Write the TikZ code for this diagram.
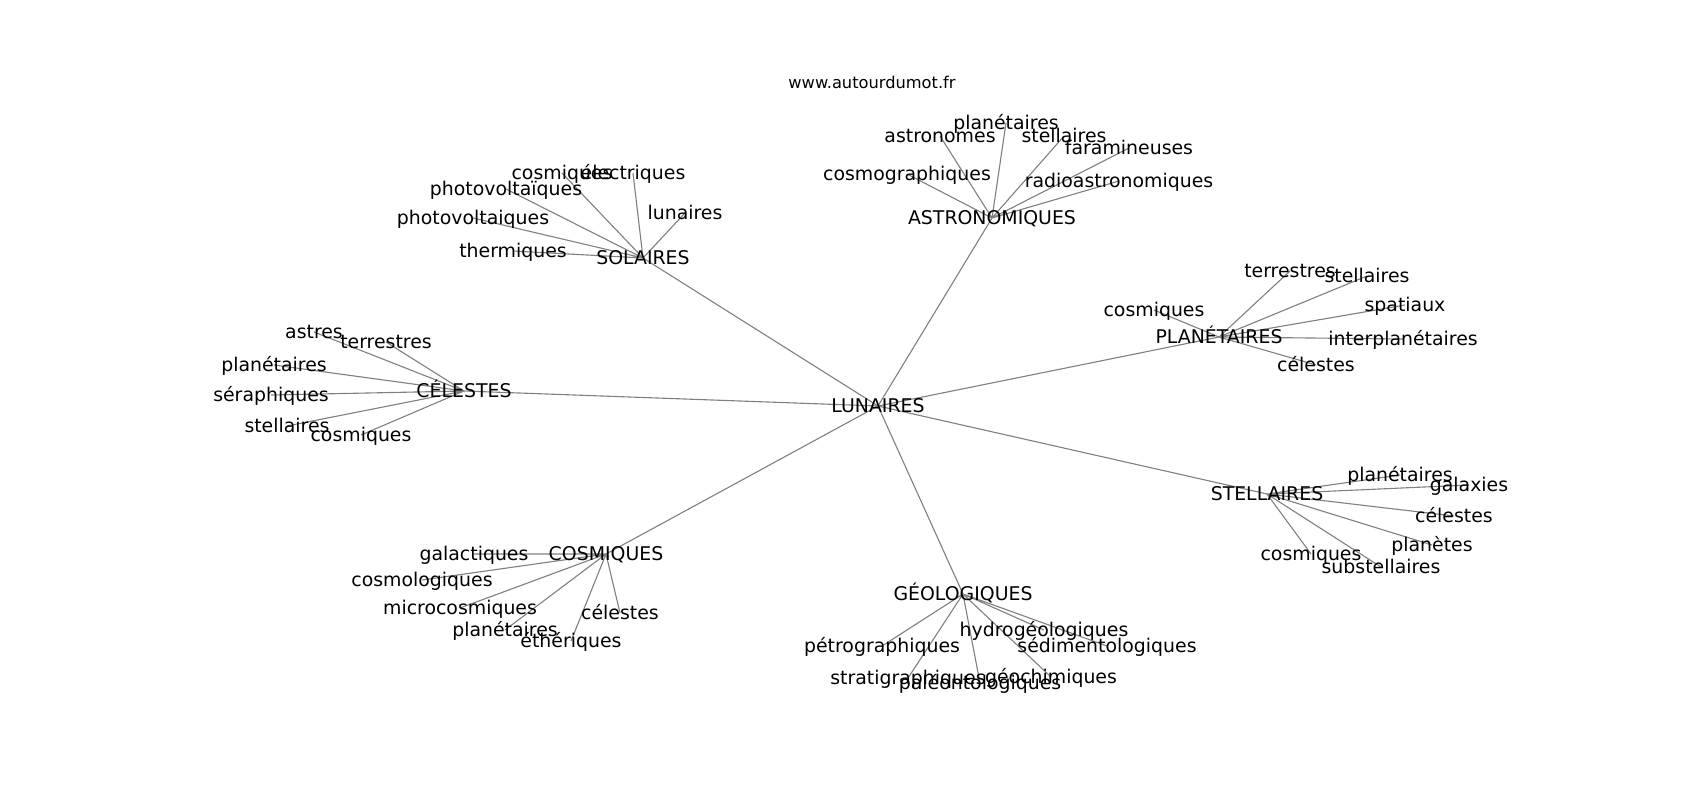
\documentclass[tikz,border=0pt]{standalone}
\usepackage{fontspec}
\setmainfont{DejaVu Sans}
\usetikzlibrary{backgrounds}
\tikzset{
  word/.style={inner sep=0pt, text height=1.2em, text depth=0.24em, font=\fontsize{13.6}{16}\selectfont},
  edge/.style={draw=gray, line width=0.8pt}
}
\begin{document}
\begin{tikzpicture}[x=0.72pt, y=-0.72pt]
  \useasboundingbox (0,0) rectangle (1700,800);
  \node[inner sep=0pt, font=\fontsize{11.7}{14}\selectfont] (site) at (872,82) {www.autourdumot.fr};
  % centres
  \node[word] (lun) at (878,406) {LUNAIRES};
  \node[word] (sol) at (643,258) {SOLAIRES};
  \node[word] (ast) at (992,218) {ASTRONOMIQUES};
  \node[word] (pla) at (1219,337) {PLANÉTAIRES};
  \node[word] (cel) at (464,391) {CÉLESTES};
  \node[word] (ste) at (1267,494) {STELLAIRES};
  \node[word] (cos) at (606,554) {COSMIQUES};
  \node[word] (geo) at (963,594) {GÉOLOGIQUES};
  % SOLAIRES
  \node[word] (sol1) at (562,173) {cosmiques};
  \node[word] (sol2) at (633,173) {électriques};
  \node[word] (sol3) at (506,189) {photovoltaïques};
  \node[word] (sol4) at (473,218) {photovoltaiques};
  \node[word] (sol5) at (685,213) {lunaires};
  \node[word] (sol6) at (513,251) {thermiques};
  % ASTRONOMIQUES
  \node[word] (ast1) at (1006,123) {planétaires};
  \node[word] (ast2) at (940,136) {astronomes};
  \node[word] (ast3) at (1064,136) {stellaires};
  \node[word] (ast4) at (1129,148) {faramineuses};
  \node[word] (ast5) at (907,174) {cosmographiques};
  \node[word] (ast6) at (1119,181) {radioastronomiques};
  % PLANETAIRES
  \node[word] (pla1) at (1290,271) {terrestres};
  \node[word] (pla2) at (1367,276) {stellaires};
  \node[word] (pla3) at (1154,310) {cosmiques};
  \node[word] (pla4) at (1405,305) {spatiaux};
  \node[word] (pla5) at (1403,339) {interplanétaires};
  \node[word] (pla6) at (1316,365) {célestes};
  % CELESTES
  \node[word] (cel1) at (314,332) {astres};
  \node[word] (cel2) at (386,342) {terrestres};
  \node[word] (cel3) at (274,365) {planétaires};
  \node[word] (cel4) at (271,395) {séraphiques};
  \node[word] (cel5) at (287,426) {stellaires};
  \node[word] (cel6) at (361,435) {cosmiques};
  % STELLAIRES
  \node[word] (ste1) at (1400,475) {planétaires};
  \node[word] (ste2) at (1469,485) {galaxies};
  \node[word] (ste3) at (1454,516) {célestes};
  \node[word] (ste4) at (1432,545) {planètes};
  \node[word] (ste5) at (1311,554) {cosmiques};
  \node[word] (ste6) at (1381,567) {substellaires};
  % COSMIQUES
  \node[word] (cos1) at (474,554) {galactiques};
  \node[word] (cos2) at (422,580) {cosmologiques};
  \node[word] (cos3) at (460,608) {microcosmiques};
  \node[word] (cos4) at (505,630) {planétaires};
  \node[word] (cos5) at (571,641) {éthériques};
  \node[word] (cos6) at (620,613) {célestes};
  % GEOLOGIQUES
  \node[word] (geo1) at (1044,630) {hydrogéologiques};
  \node[word] (geo2) at (882,646) {pétrographiques};
  \node[word] (geo3) at (1107,646) {sédimentologiques};
  \node[word] (geo4) at (908,678) {stratigraphiques};
  \node[word] (geo5) at (980,683) {paléontologiques};
  \node[word] (geo6) at (1051,677) {géochimiques};
  \begin{scope}[on background layer]
    \draw[edge] (lun.center)--(sol.center) (lun.center)--(ast.center) (lun.center)--(pla.center)
      (lun.center)--(cel.center) (lun.center)--(ste.center) (lun.center)--(cos.center) (lun.center)--(geo.center);
    \draw[edge] (sol.center)--(sol1.center) (sol.center)--(sol2.center) (sol.center)--(sol3.center)
      (sol.center)--(sol4.center) (sol.center)--(sol5.center) (sol.center)--(sol6.center);
    \draw[edge] (ast.center)--(ast1.center) (ast.center)--(ast2.center) (ast.center)--(ast3.center)
      (ast.center)--(ast4.center) (ast.center)--(ast5.center) (ast.center)--(ast6.center);
    \draw[edge] (pla.center)--(pla1.center) (pla.center)--(pla2.center) (pla.center)--(pla3.center)
      (pla.center)--(pla4.center) (pla.center)--(pla5.center) (pla.center)--(pla6.center);
    \draw[edge] (cel.center)--(cel1.center) (cel.center)--(cel2.center) (cel.center)--(cel3.center)
      (cel.center)--(cel4.center) (cel.center)--(cel5.center) (cel.center)--(cel6.center);
    \draw[edge] (ste.center)--(ste1.center) (ste.center)--(ste2.center) (ste.center)--(ste3.center)
      (ste.center)--(ste4.center) (ste.center)--(ste5.center) (ste.center)--(ste6.center);
    \draw[edge] (cos.center)--(cos1.center) (cos.center)--(cos2.center) (cos.center)--(cos3.center)
      (cos.center)--(cos4.center) (cos.center)--(cos5.center) (cos.center)--(cos6.center);
    \draw[edge] (geo.center)--(geo1.center) (geo.center)--(geo2.center) (geo.center)--(geo3.center)
      (geo.center)--(geo4.center) (geo.center)--(geo5.center) (geo.center)--(geo6.center);
  \end{scope}
\end{tikzpicture}
\end{document}
